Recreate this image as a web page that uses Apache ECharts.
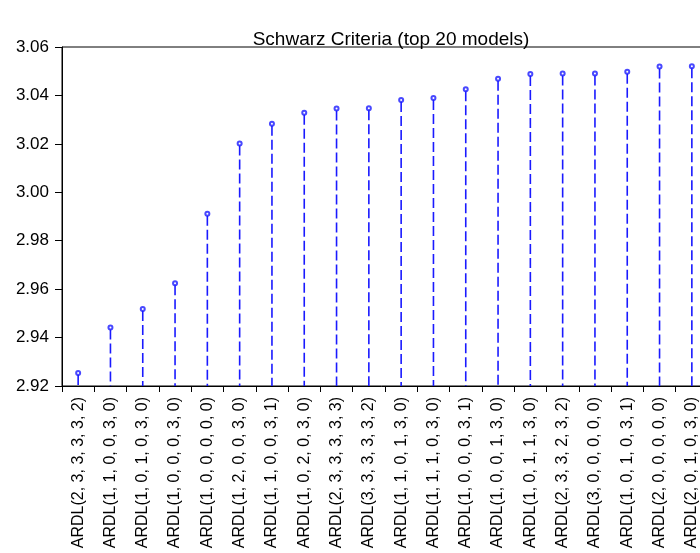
<!DOCTYPE html>
<html>
<head>
<meta charset="utf-8">
<script src="https://cdn.jsdelivr.net/npm/echarts@6/dist/echarts.min.js"></script>
<style>
html,body{margin:0;padding:0;background:#fff;}
#chart{width:700px;height:553px;}
</style>
</head>
<body>
<div id="chart"></div>
<script>
const titleText = 'Schwarz Criteria (top 20 models)';
const models = [
  'ARDL(2, 3, 3, 3, 3, 2)', 'ARDL(1, 1, 0, 0, 3, 0)', 'ARDL(1, 0, 1, 0, 3, 0)', 'ARDL(1, 0, 0, 0, 3, 0)',
  'ARDL(1, 0, 0, 0, 0, 0)', 'ARDL(1, 2, 0, 0, 3, 0)', 'ARDL(1, 1, 0, 0, 3, 1)', 'ARDL(1, 0, 2, 0, 3, 0)',
  'ARDL(2, 3, 3, 3, 3, 3)', 'ARDL(3, 3, 3, 3, 3, 2)', 'ARDL(1, 1, 0, 1, 3, 0)', 'ARDL(1, 1, 1, 0, 3, 0)',
  'ARDL(1, 0, 0, 0, 3, 1)', 'ARDL(1, 0, 0, 1, 3, 0)', 'ARDL(1, 0, 1, 1, 3, 0)', 'ARDL(2, 3, 3, 2, 3, 2)',
  'ARDL(3, 0, 0, 0, 0, 0)', 'ARDL(1, 0, 1, 0, 3, 1)', 'ARDL(2, 0, 0, 0, 0, 0)', 'ARDL(2, 0, 1, 0, 3, 0)'
];
const schwarz = [
  2.9254, 2.9442, 2.9518, 2.9624, 2.9911, 3.0201, 3.0283, 3.0328, 3.0346, 3.0347,
  3.0381, 3.0389, 3.0426, 3.0469, 3.0488, 3.0491, 3.0491, 3.0498, 3.0519, 3.0521
];
const yMin = 2.92, yMax = 3.06, yStep = 0.02;

const chart = echarts.init(document.getElementById('chart'), null, {renderer: 'canvas'});
const font = '"Liberation Sans", Arial, sans-serif';
const blue = '#1a1aff';

chart.setOption({
  animation: false,
  backgroundColor: '#ffffff',
  title: {
    text: titleText,
    left: 386,
    textAlign: 'center',
    top: 25,
    textStyle: {fontFamily: font, fontSize: 19, fontWeight: 'normal', color: '#000'}
  },
  grid: {
    left: 62, top: 47, width: 646, height: 339,
    containLabel: false,
    outerBoundsMode: 'none',
    show: true, borderColor: '#000', borderWidth: 1, backgroundColor: 'transparent'
  },
  xAxis: {
    type: 'category',
    data: models,
    boundaryGap: true,
    axisLine: {lineStyle: {color: '#000', width: 1}},
    axisTick: {show: true, interval: 0, length: 6, lineStyle: {color: '#000'}},
    axisLabel: {interval: 0, rotate: 90, margin: 11, fontFamily: font, fontSize: 16, color: '#000'},
    splitLine: {show: false}
  },
  yAxis: {
    type: 'value',
    min: yMin, max: yMax, interval: yStep,
    axisLine: {show: true, lineStyle: {color: '#000', width: 1}},
    axisTick: {show: true, length: 7, lineStyle: {color: '#000'}},
    axisLabel: {margin: 13, fontFamily: font, fontSize: 17, color: '#000',
      formatter: v => v.toFixed(2)},
    splitLine: {show: false}
  },
  series: [
    {
      type: 'custom',
      data: schwarz.map((v, i) => [i, v]),
      encode: {x: 0, y: 1},
      renderItem: function (params, api) {
        const i = api.value(0);
        const top = api.coord([i, api.value(1)]);
        const bot = api.coord([i, yMin]);
        return {
          type: 'line',
          shape: {x1: top[0], y1: top[1] + 2, x2: bot[0], y2: bot[1]},
          style: {stroke: blue, lineWidth: 1.6, lineDash: [10, 4], fill: null}
        };
      },
      z: 2
    },
    {
      type: 'scatter',
      data: schwarz.map((v, i) => [i, v]),
      symbol: 'emptyCircle',
      symbolSize: 4,
      itemStyle: {color: blue, borderColor: blue, borderWidth: 1.2},
      z: 3
    }
  ]
});
</script>
</body>
</html>
